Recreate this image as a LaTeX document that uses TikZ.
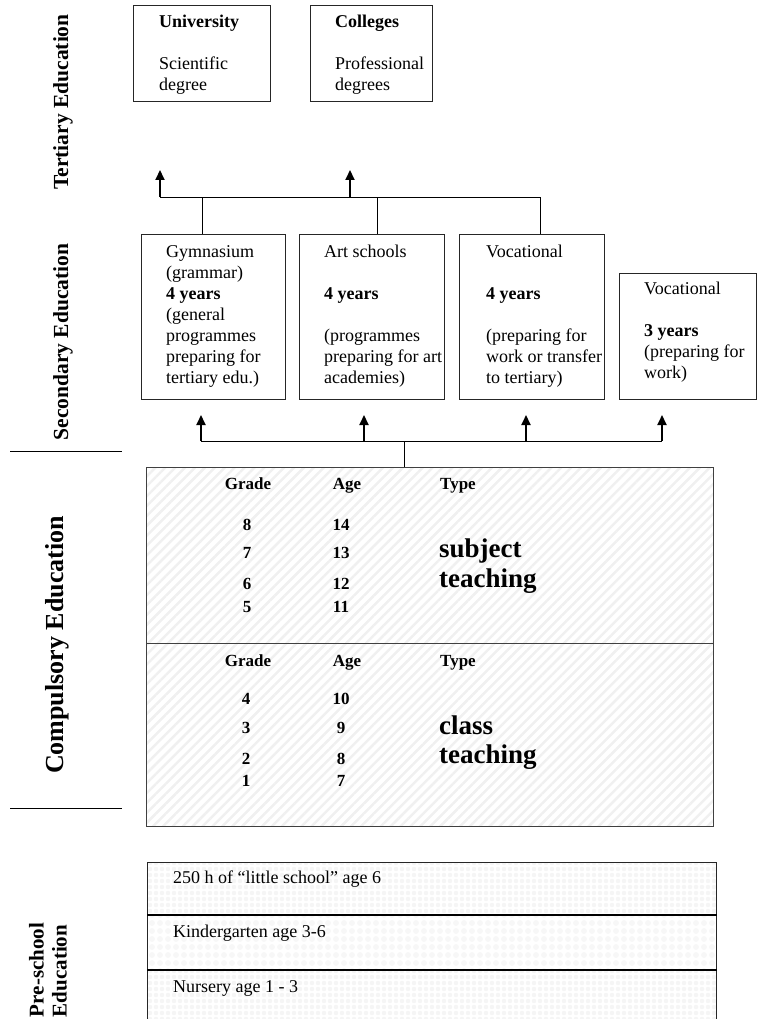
\documentclass[tikz,border=0pt]{standalone}
\usepackage{fontspec}
\setmainfont{Liberation Serif}
\usetikzlibrary{arrows.meta,patterns.meta,calc}
\begin{document}
\begin{tikzpicture}[x=1pt,y=-1pt,
  box/.style={draw=black!85,line width=1pt,inner sep=0pt,anchor=north west},
  btext/.style={anchor=north west,inner sep=0pt,align=left,font=\fontsize{18}{21}\selectfont},
  hdr/.style={anchor=base,inner sep=0pt,font=\fontsize{17}{20}\selectfont\bfseries},
  num/.style={anchor=base,inner sep=0pt,font=\fontsize{17}{20}\selectfont\bfseries},
  big/.style={anchor=base west,inner sep=0pt,font=\fontsize{27}{30}\selectfont\bfseries},
  ptext/.style={anchor=base west,inner sep=0pt,font=\fontsize{18}{21}\selectfont},
  side/.style={rotate=90,inner sep=0pt,font=\fontsize{21.5}{24}\selectfont\bfseries},
  conn/.style={line width=1pt,draw=black},
  arr/.style={line width=2pt,-{Triangle[width=9pt,length=10pt]}},
  stripes/.style={pattern={Lines[angle=45,distance=7pt,line width=2.5pt]},pattern color=black!6},
  dotsA/.style={pattern={Dots[distance=6pt,radius=2.3pt]},pattern color=black!4},
  dotsB/.style={pattern={Dots[distance=8pt,radius=3pt]},pattern color=black!3}
]
\useasboundingbox (0,0) rectangle (758,1019);
\clip (0,0) rectangle (758,1019);

% side labels
\node[side] (lt) at (63,102) {Tertiary Education};
\node[side] (ls) at (63,342) {Secondary Education};
\node[side,font=\fontsize{26}{28}\selectfont\bfseries] (lc) at (57,645) {Compulsory Education};
\node[side,font=\fontsize{21}{23}\selectfont\bfseries,align=left] (lp) at (48,970) {Pre-school\\Education};
\coordinate (sl1a) at (10,451); \coordinate (sl1b) at (122,451);
\coordinate (sl2a) at (10,808); \coordinate (sl2b) at (122,808);
\draw[conn] (sl1a) -- (sl1b);
\draw[conn] (sl2a) -- (sl2b);

% tertiary boxes
\node[box,minimum width=137pt,minimum height=96pt] (uni) at (133,5) {};
\node[btext] (unit) at ($(uni.north west)+(26,8)$) {\strut\textbf{University}\\[21pt]Scientific\\degree};
\node[box,minimum width=122pt,minimum height=96pt] (col) at (310,5) {};
\node[btext] (colt) at ($(col.north west)+(25,8)$) {\strut\textbf{Colleges}\\[21pt]Professional\\degrees};

% secondary boxes
\node[box,minimum width=144pt,minimum height=165pt] (gym) at (141,234) {};
\node[btext] (gymt) at ($(gym.north west)+(25,9)$) {\strut Gymnasium\\(grammar)\\\textbf{4 years}\\(general\\programmes\\preparing for\\tertiary edu.)};
\node[box,minimum width=145pt,minimum height=165pt] (art) at (299,234) {};
\node[btext] (artt) at ($(art.north west)+(25,9)$) {\strut Art schools\\[21pt]\textbf{4 years}\\[21pt](programmes\\preparing for art\\academies)};
\node[box,minimum width=145pt,minimum height=165pt] (vocf) at (459,234) {};
\node[btext] (vocft) at ($(vocf.north west)+(27,9)$) {\strut Vocational\\[21pt]\textbf{4 years}\\[21pt](preparing for\\work or transfer\\to tertiary)};
\node[box,minimum width=137pt,minimum height=126pt] (voct) at (619,273) {};
\node[btext] (vocttt) at ($(voct.north west)+(25,7)$) {\strut Vocational\\[21pt]\textbf{3 years}\\(preparing for\\work)};

% top connectors
\coordinate (tL) at (160,197);
\coordinate (tM) at (350,197);
\coordinate (tR) at (540,197);
\coordinate (tLa) at (160,170);
\coordinate (tMa) at (350,170);
\coordinate (g1) at (202,197);
\coordinate (g2) at (377,197);
\draw[conn] (tL) -- (tR);
\draw[conn] (g1) -- (g1 |- gym.north);
\draw[conn] (g2) -- (g2 |- art.north);
\draw[conn] (tR) -- (tR |- vocf.north);
\draw[arr] (tL) -- (tLa);
\draw[arr] (tM) -- (tMa);

% compulsory boxes
\node[box,stripes,draw=black!75,line width=1.2pt,minimum width=567pt,minimum height=176pt] (cu) at (146,467) {};
\node[box,stripes,draw=black!75,line width=1.2pt,minimum width=567pt,minimum height=183pt] (cl) at (146,643) {};

% bottom connectors
\coordinate (b1) at (201,441);
\coordinate (b2) at (364,441);
\coordinate (b3) at (526,441);
\coordinate (b4) at (662,441);
\coordinate (bs) at (404,441);
\coordinate (a1) at (201,415);
\coordinate (a2) at (364,415);
\coordinate (a3) at (526,415);
\coordinate (a4) at (662,415);
\draw[conn] (b1) -- (b4);
\draw[conn] (bs) -- (bs |- cu.north);
\draw[arr] (b1) -- (a1);
\draw[arr] (b2) -- (a2);
\draw[arr] (b3) -- (a3);
\draw[arr] (b4) -- (a4);

% upper table
\node[hdr] (h1) at (248,489) {Grade};
\node[hdr] (h2) at (347,489) {Age};
\node[hdr,anchor=base west] (h3) at (440,489) {Type};
\node[num] (g8) at (247,530) {8};  \node[num] (a14) at (341,530) {14};
\node[num] (g7) at (247,558) {7};  \node[num] (a13) at (341,558) {13};
\node[num] (g6) at (247,589) {6};  \node[num] (a12) at (341,589) {12};
\node[num] (g5) at (247,612) {5};  \node[num] (a11) at (341,612) {11};
\node[big] (st1) at (439,557) {subject};
\node[big] (st2) at (439,587) {teaching};

% lower table
\node[hdr] (h4) at (248,666) {Grade};
\node[hdr] (h5) at (347,666) {Age};
\node[hdr,anchor=base west] (h6) at (440,666) {Type};
\node[num] (g4) at (246,704) {4};  \node[num] (a10) at (341,704) {10};
\node[num] (g3) at (246,733) {3};  \node[num] (a9) at (341,733) {9};
\node[num] (g2) at (246,764) {2};  \node[num] (a8) at (341,764) {8};
\node[num] (g1n) at (246,786) {1}; \node[num] (a7) at (341,786) {7};
\node[big] (ct1) at (439,734) {class};
\node[big] (ct2) at (439,763) {teaching};

% preschool
\node[box,dotsA,minimum width=569pt,minimum height=52pt] (p1) at (147,862) {};
\node[box,dotsB,minimum width=569pt,minimum height=55pt] (p2) at (147,914) {};
\node[box,dotsA,minimum width=569pt,minimum height=60pt] (p3) at (147,969) {};
\draw[line width=2pt] (p1.south west) -- (p1.south east);
\draw[line width=2pt] (p2.south west) -- (p2.south east);
\node[ptext] (pt1) at (173,883) {250 h of “little school” age 6};
\node[ptext] (pt2) at (173,937) {Kindergarten age 3-6};
\node[ptext] (pt3) at (173,992) {Nursery age 1 - 3};
\end{tikzpicture}
\end{document}
